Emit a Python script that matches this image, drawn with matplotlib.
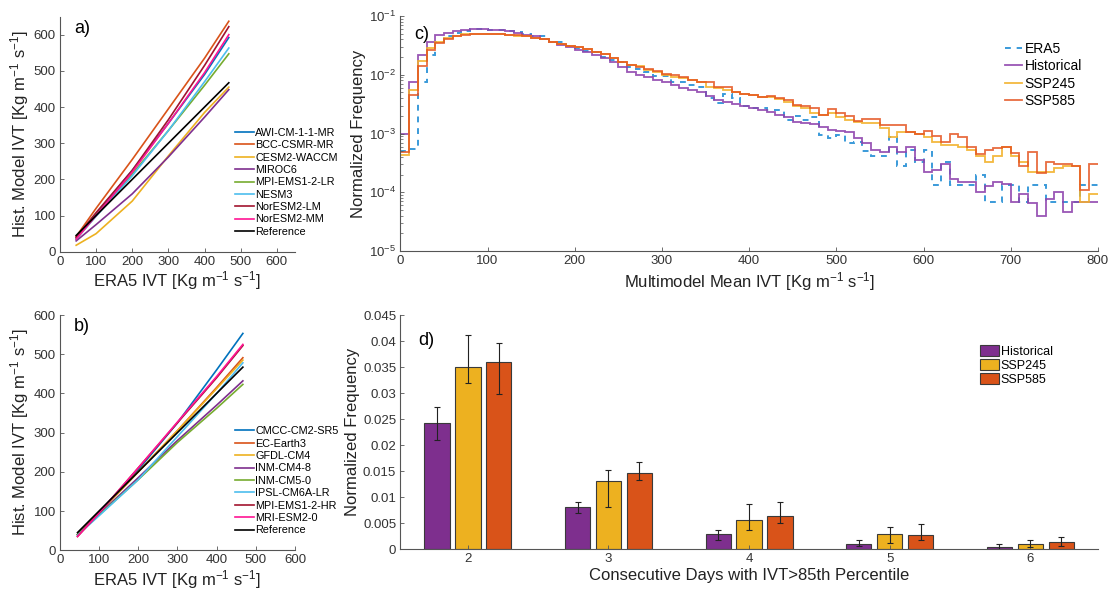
import numpy as np
import matplotlib
matplotlib.use("Agg")
import matplotlib.pyplot as plt
from matplotlib import rcParams

rcParams['font.family'] = 'sans-serif'
rcParams['font.sans-serif'] = ['Liberation Sans', 'DejaVu Sans']
rcParams['mathtext.fontset'] = 'custom'
rcParams['mathtext.rm'] = 'Liberation Sans'
rcParams['mathtext.it'] = 'Liberation Sans:italic'
rcParams['axes.edgecolor'] = '#555555'
rcParams['xtick.color'] = '#555555'
rcParams['ytick.color'] = '#555555'
rcParams['xtick.labelcolor'] = '#333333'
rcParams['ytick.labelcolor'] = '#333333'
rcParams['xtick.direction'] = 'in'
rcParams['ytick.direction'] = 'in'

# ---- panels a, b: model vs ERA5 IVT percentiles ----
era5_x = [45, 100, 200, 300, 400, 467]

models_a = ['AWI-CM-1-1-MR', 'BCC-CSMR-MR', 'CESM2-WACCM', 'MIROC6', 'MPI-EMS1-2-LR',
            'NESM3', 'NorESM2-LM', 'NorESM2-MM', 'Reference']
awi = [38, 105, 225, 355, 490, 592]
bcc = [42, 120, 255, 395, 535, 637]
cesm2 = [18, 50, 140, 265, 385, 455]
miroc6 = [30, 75, 160, 262, 372, 448]
mpi_lr = [35, 100, 215, 335, 460, 547]
nesm3 = [35, 98, 210, 335, 470, 563]
noresm_lm = [40, 108, 225, 365, 515, 622]
noresm_mm = [35, 100, 220, 355, 495, 600]
reference = [45, 100, 200, 300, 400, 467]

models_b = ['CMCC-CM2-SR5', 'EC-Earth3', 'GFDL-CM4', 'INM-CM4-8', 'INM-CM5-0',
            'IPSL-CM6A-LR', 'MPI-EMS1-2-HR', 'MRI-ESM2-0', 'Reference']
cmcc = [40, 95, 205, 325, 460, 553]
ec_earth = [40, 95, 200, 305, 415, 491]
gfdl = [40, 95, 200, 305, 412, 485]
inm4 = [40, 92, 185, 280, 370, 432]
inm5 = [40, 90, 180, 275, 362, 423]
ipsl = [38, 88, 180, 290, 400, 478]
mpi_hr = [35, 95, 210, 325, 440, 522]
mri = [35, 95, 210, 327, 443, 525]

line_colors = ['#0072BD', '#D95319', '#EDB120', '#7E2F8E', '#77AC30',
               '#4DBEEE', '#A2142F', '#FF1493', 'black']

# ---- panel c: normalized frequency histograms (bin width 10) ----
edges = np.arange(0, 810, 10)
era5_freq = [5.0e-4, 5.4e-4, 0.0074, 0.022, 0.036, 0.045, 0.051, 0.056, 0.059, 0.059,
             0.0575, 0.0575, 0.055, 0.0525, 0.049, 0.046, 0.045, 0.036, 0.0355, 0.031,
             0.028, 0.0257, 0.024, 0.0204, 0.0178, 0.0162, 0.0138, 0.0123, 0.011, 0.0095,
             0.0095, 0.0076, 0.0076, 0.0066, 0.0063, 0.0041, 0.0033, 0.0048, 0.0040, 0.0029,
             0.0027, 0.0027, 0.0025, 0.0025, 0.0017, 0.0020, 0.0017, 0.0019, 0.00095, 0.00083,
             0.00095, 0.00068, 0.00071, 0.00050, 0.00041, 0.00041, 0.00089, 0.00028, 0.00052, 0.00033,
             0.00052, 1.35e-4, 0.00033, 1.35e-4, 1.35e-4, 1.35e-4, 2.0e-4, 6.8e-5, 6.8e-5, 1.35e-4,
             1.35e-4, 6.8e-5, 1.35e-4, 1.35e-4, 6.8e-5, 6.8e-5, 6.8e-5, 6.8e-5, 1.35e-4, 1.35e-4]
hist_freq = [1.0e-3, 7.6e-3, 0.022, 0.036, 0.048, 0.052, 0.056, 0.058, 0.059, 0.059,
             0.058, 0.057, 0.055, 0.052, 0.048, 0.045, 0.040, 0.036, 0.032, 0.0295,
             0.026, 0.024, 0.022, 0.019, 0.0166, 0.0138, 0.0112, 0.0098, 0.0091, 0.0083,
             0.0074, 0.0066, 0.0060, 0.0055, 0.0050, 0.0043, 0.0037, 0.0034, 0.0032, 0.0029,
             0.0027, 0.0025, 0.0023, 0.0021, 0.0019, 0.0016, 0.0015, 0.00145, 0.0013, 0.00117,
             0.0011, 0.00107, 0.00085, 0.00068, 0.00052, 0.00049, 0.00059, 0.00048, 0.00059, 0.00036,
             0.00022, 0.00024, 0.00030, 1.66e-4, 1.48e-4, 1.51e-4, 1.0e-4, 1.26e-4, 1.51e-4, 1.41e-4,
             6.8e-5, 9.5e-5, 6.5e-5, 3.9e-5, 7.6e-5, 1.02e-4, 4.7e-5, 6.8e-5, 6.9e-5, 6.8e-5]
ssp245_freq = [4.4e-4, 0.0055, 0.0174, 0.028, 0.036, 0.042, 0.046, 0.049, 0.049, 0.049,
               0.049, 0.049, 0.048, 0.046, 0.045, 0.043, 0.041, 0.0355, 0.033, 0.031,
               0.0295, 0.027, 0.0245, 0.0224, 0.019, 0.0162, 0.0148, 0.0141, 0.012, 0.0112,
               0.0100, 0.0093, 0.0087, 0.0081, 0.0076, 0.0063, 0.0059, 0.0055, 0.0051, 0.0048,
               0.0046, 0.0042, 0.0042, 0.0038, 0.0035, 0.0030, 0.0027, 0.0022, 0.0021, 0.0022,
               0.0019, 0.0017, 0.0016, 0.0015, 0.0015, 0.00123, 0.00089, 0.00107, 0.00105, 0.0010,
               0.00089, 0.00072, 0.00065, 0.00065, 0.0006, 0.00052, 0.00041, 0.00033, 0.00041, 0.0006,
               0.00041, 0.00033, 0.00022, 0.00022, 0.00022, 0.00026, 0.00028, 0.00028, 6.8e-5, 9.5e-5]
ssp585_freq = [4.9e-4, 0.0046, 0.0141, 0.026, 0.035, 0.040, 0.045, 0.048, 0.049, 0.049,
               0.049, 0.049, 0.048, 0.047, 0.045, 0.043, 0.041, 0.0355, 0.033, 0.031,
               0.0295, 0.027, 0.0245, 0.0224, 0.019, 0.0162, 0.0148, 0.0138, 0.0123, 0.0115,
               0.0105, 0.0100, 0.0093, 0.0081, 0.0076, 0.0076, 0.0063, 0.0062, 0.0051, 0.0048,
               0.0046, 0.0042, 0.0044, 0.0040, 0.0037, 0.0031, 0.0029, 0.0027, 0.0021, 0.0026,
               0.0022, 0.0020, 0.00166, 0.0018, 0.0018, 0.0014, 0.0014, 0.0014, 0.00107, 0.0010,
               0.00112, 0.00091, 0.00072, 0.00098, 0.00089, 0.0006, 0.00045, 0.00052, 0.00056, 0.0006,
               0.00046, 0.00028, 0.00049, 0.00021, 0.00033, 0.0003, 0.0003, 0.00028, 0.00011, 0.0003]

# ---- panel d: consecutive days above 85th percentile ----
days = [2, 3, 4, 5, 6]
hist_d = [0.0243, 0.0081, 0.0028, 0.0010, 0.00045]
hist_lo = [0.0209, 0.0070, 0.0018, 0.0005, 0.0001]
hist_hi = [0.0273, 0.0091, 0.0037, 0.0018, 0.0009]
ssp245_d = [0.0350, 0.0130, 0.0055, 0.0028, 0.0009]
ssp245_lo = [0.0319, 0.0080, 0.0036, 0.0011, 0.0003]
ssp245_hi = [0.0412, 0.0152, 0.0086, 0.0043, 0.0018]
ssp585_d = [0.0359, 0.0147, 0.0064, 0.0027, 0.0013]
ssp585_lo = [0.0298, 0.0132, 0.0050, 0.0018, 0.0006]
ssp585_hi = [0.0397, 0.0167, 0.0091, 0.0049, 0.0024]

unit = r'[Kg m$^{-1}$ s$^{-1}$]'

fig = plt.figure(figsize=(11.09, 5.91), dpi=100)
fig.patch.set_facecolor('white')


def clean(ax):
    ax.spines['top'].set_visible(False)
    ax.spines['right'].set_visible(False)
    ax.tick_params(labelsize=9.5, length=3, width=0.6, pad=3)


def scatter_panel(rect, series, names, lim, label):
    ax = fig.add_axes(rect)
    for vals, name, c in zip(series, names, line_colors):
        ax.plot(era5_x, vals, color=c, lw=1.2, label=name)
    ax.set_xlim(0, lim)
    ax.set_ylim(0, lim)
    ax.set_xticks(np.arange(0, 601, 100))
    ax.set_yticks(np.arange(0, 601, 100))
    clean(ax)
    ax.set_xlabel('ERA5 IVT ' + unit, fontsize=12, color='#222222', labelpad=1)
    ax.set_ylabel('Hist. Model IVT ' + unit, fontsize=12, color='#222222', labelpad=2)
    ax.text(0.06, 0.93, label, transform=ax.transAxes, fontsize=13, color='black')
    ax.legend(loc='upper left', bbox_to_anchor=(0.72, 0.55), frameon=False, fontsize=7.8,
              handlelength=1.8, handletextpad=0.1, labelspacing=0.22, borderpad=0)
    return ax


scatter_panel([0.054, 0.574, 0.212, 0.398],
              [awi, bcc, cesm2, miroc6, mpi_lr, nesm3, noresm_lm, noresm_mm, reference],
              models_a, 650, 'a)')
scatter_panel([0.054, 0.069, 0.212, 0.398],
              [cmcc, ec_earth, gfdl, inm4, inm5, ipsl, mpi_hr, mri, reference],
              models_b, 600, 'b)')

# panel c
axc = fig.add_axes([0.361, 0.575, 0.629, 0.398])
axc.stairs(era5_freq, edges, color='#3a9ad9', lw=1.4, ls=(0, (3, 3)), label='ERA5', baseline=None)
axc.stairs(hist_freq, edges, color='#8e44ad', lw=1.3, alpha=0.9, label='Historical', baseline=None)
axc.stairs(ssp245_freq, edges, color='#f2b12a', lw=1.3, alpha=0.9, label='SSP245', baseline=None)
axc.stairs(ssp585_freq, edges, color='#e5531f', lw=1.3, alpha=0.85, label='SSP585', baseline=None)
axc.set_yscale('log')
axc.set_xlim(0, 800)
axc.set_ylim(1e-5, 1e-1)
axc.set_xticks(np.arange(0, 801, 100))
clean(axc)
axc.tick_params(which='minor', length=2, width=0.5)
axc.set_xlabel('Multimodel Mean IVT ' + unit, fontsize=12, color='#222222', labelpad=2)
axc.set_ylabel('Normalized Frequency', fontsize=12, color='#222222', labelpad=2)
axc.text(0.02, 0.9, 'c)', transform=axc.transAxes, fontsize=13, color='black')
axc.legend(loc='upper left', bbox_to_anchor=(0.857, 0.92), frameon=False, fontsize=10,
           handlelength=1.25, handletextpad=0.15, labelspacing=0.25, borderpad=0)

# panel d
axd = fig.add_axes([0.361, 0.071, 0.629, 0.396])
offsets = [-0.22, 0.0, 0.22]
bar_colors = ['#7E2F8E', '#EDB120', '#D95319']
groups = [(hist_d, hist_lo, hist_hi, 'Historical'),
          (ssp245_d, ssp245_lo, ssp245_hi, 'SSP245'),
          (ssp585_d, ssp585_lo, ssp585_hi, 'SSP585')]
for (vals, lo, hi, name), off, c in zip(groups, offsets, bar_colors):
    x = np.array(days) + off
    axd.bar(x, vals, width=0.18, color=c, edgecolor='#3a3a3a', lw=0.8, label=name)
    err = [np.array(vals) - np.array(lo), np.array(hi) - np.array(vals)]
    axd.errorbar(x, vals, yerr=err, fmt='none', ecolor='#222222', elinewidth=0.8,
                 capsize=2, capthick=0.8)
axd.set_xlim(1.52, 6.48)
axd.set_ylim(0, 0.045)
axd.set_xticks(days)
yt = np.arange(0, 0.0451, 0.005)
axd.set_yticks(yt)
axd.set_yticklabels(['0'] + ['%g' % round(v, 3) for v in yt[1:]])
clean(axd)
axd.set_xlabel('Consecutive Days with IVT>85th Percentile', fontsize=12, color='#222222', labelpad=2)
axd.set_ylabel('Normalized Frequency', fontsize=12, color='#222222', labelpad=2)
axd.text(0.025, 0.87, 'd)', transform=axd.transAxes, fontsize=13, color='black')
axd.legend(loc='upper left', bbox_to_anchor=(0.822, 0.9), frameon=False, fontsize=9,
           handlelength=1.5, handleheight=1.0, handletextpad=0.15, labelspacing=0.1, borderpad=0)

fig.savefig('out.png', dpi=100, facecolor='white')
